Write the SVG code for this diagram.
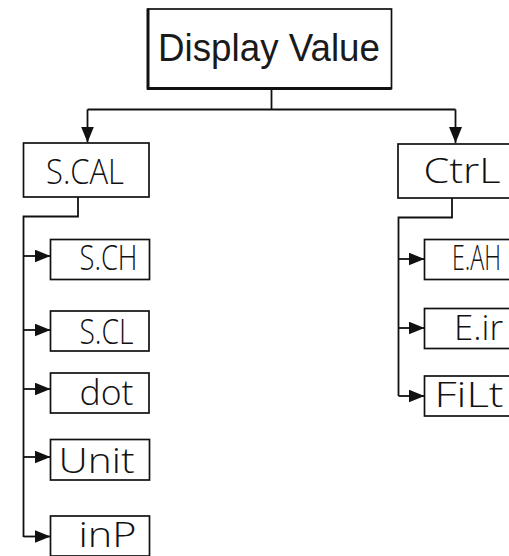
<svg xmlns="http://www.w3.org/2000/svg" width="509" height="556" viewBox="0 0 509 556">
<style>
.bg{fill:#ffffff}
.box{fill:#ffffff;stroke:#111111;stroke-width:1.7}
.line{fill:none;stroke:#111111;stroke-width:1.8}
.title{font-family:"Liberation Sans",Arial,sans-serif;font-size:38px;fill:#1a1a1a}
.seg{font-family:"Open Sans","Liberation Sans",sans-serif;font-weight:300;font-size:35px;fill:#111111}
</style>
<defs>
<marker id="arr" markerUnits="userSpaceOnUse" markerWidth="17" markerHeight="13" refX="16" refY="6.5" orient="auto">
<path d="M0,0 L16,6.5 L0,13 Z" fill="#111111"/>
</marker>
</defs>
<rect class="bg" x="0" y="0" width="509" height="556"/>
<g id="connectors">
<path class="line" d="M271.5,89 V109.5"/>
<path class="line" d="M87.5,109.5 H455.5"/>
<path class="line" d="M87.5,109.5 V142.5" marker-end="url(#arr)"/>
<path class="line" d="M455.5,109.5 V143" marker-end="url(#arr)"/>
<path class="line" d="M78,197 V216.5 H23.5 V537"/>
<path class="line" d="M23.5,256 H50.5" marker-end="url(#arr)"/>
<path class="line" d="M23.5,330 H50.5" marker-end="url(#arr)"/>
<path class="line" d="M23.5,389 H50.5" marker-end="url(#arr)"/>
<path class="line" d="M23.5,457 H50.5" marker-end="url(#arr)"/>
<path class="line" d="M23.5,536.5 H50.5" marker-end="url(#arr)"/>
<path class="line" d="M452,198 V217.5 H398.5 V396"/>
<path class="line" d="M398.5,259 H424.5" marker-end="url(#arr)"/>
<path class="line" d="M398.5,328 H424.5" marker-end="url(#arr)"/>
<path class="line" d="M398.5,396 H424.5" marker-end="url(#arr)"/>
</g>
<g id="display-value">
<rect class="box" x="148" y="9" width="243.5" height="79.5"/>
<path d="M148,8.5 V89.5 M147,88.5 H391.5" fill="none" stroke="#111111" stroke-width="3"/>
<text class="title" x="269" y="61" text-anchor="middle" textLength="222" lengthAdjust="spacingAndGlyphs">Display Value</text>
</g>
<g id="scal">
<rect class="box" x="23.5" y="143" width="125.5" height="54"/>
<text class="seg" x="46" y="183.5" textLength="78" lengthAdjust="spacingAndGlyphs">S.CAL</text>
</g>
<g id="ctrl">
<rect class="box" x="398" y="144" width="126" height="54"/>
<text class="seg" x="423.5" y="183" textLength="77" lengthAdjust="spacingAndGlyphs">CtrL</text>
</g>
<g id="sch">
<rect class="box" x="50.5" y="239.5" width="99" height="40"/>
<text class="seg" x="79.5" y="269.5" textLength="58" lengthAdjust="spacingAndGlyphs">S.CH</text>
</g>
<g id="scl">
<rect class="box" x="50.5" y="311" width="98.5" height="40"/>
<text class="seg" x="79.5" y="343.5" textLength="54" lengthAdjust="spacingAndGlyphs">S.CL</text>
</g>
<g id="dot">
<rect class="box" x="50.5" y="373" width="98.5" height="40"/>
<text class="seg" x="79.5" y="405" textLength="54" lengthAdjust="spacingAndGlyphs">dot</text>
</g>
<g id="unit">
<rect class="box" x="50.5" y="439.5" width="99" height="40.5"/>
<text class="seg" x="58.5" y="472.5" textLength="76" lengthAdjust="spacingAndGlyphs">Unit</text>
</g>
<g id="inp">
<rect class="box" x="50.5" y="516" width="99" height="40"/>
<text class="seg" x="78.5" y="546.5" textLength="58" lengthAdjust="spacingAndGlyphs">inP</text>
</g>
<g id="eah">
<rect class="box" x="424.5" y="239.5" width="99" height="40"/>
<text class="seg" style="font-size:24px" transform="translate(452,270) scale(1,1.458)" x="0" y="0" textLength="49" lengthAdjust="spacingAndGlyphs">E.AH</text>
</g>
<g id="eir">
<rect class="box" x="424.5" y="308.5" width="99" height="40"/>
<text class="seg" x="454" y="339.5" textLength="49" lengthAdjust="spacingAndGlyphs">E.ir</text>
</g>
<g id="filt">
<rect class="box" x="424.5" y="376" width="99" height="40"/>
<text class="seg" x="434.5" y="406.5" textLength="69" lengthAdjust="spacingAndGlyphs">FiLt</text>
</g>
</svg>
